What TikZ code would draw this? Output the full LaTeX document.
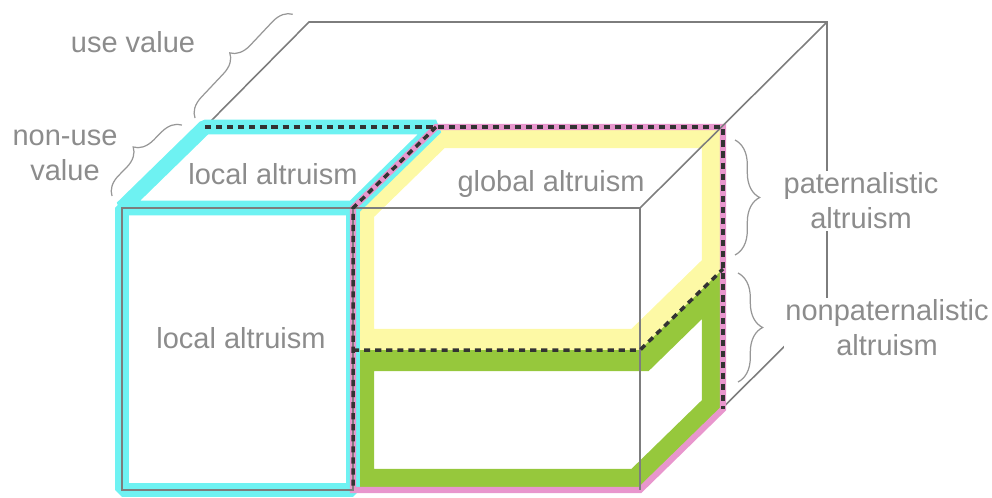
\documentclass[tikz,border=0pt]{standalone}
\usepackage{fontspec}
\setmainfont{Liberation Sans}
\usetikzlibrary{decorations.pathreplacing}

\definecolor{ciano}{RGB}{110,242,242}
\definecolor{rosa}{RGB}{232,150,205}
\definecolor{giallo}{RGB}{253,249,165}
\definecolor{verde}{RGB}{150,200,60}
\definecolor{grigio}{RGB}{125,125,125}
\definecolor{testo}{RGB}{140,140,140}

\begin{document}
\begin{tikzpicture}[
  x=0.2mm, y=-0.2mm,
  font=\fontsize{16.5}{20}\selectfont,
  spigolo/.style={draw=grigio, line width=0.9pt},
  fascia/.style={draw=#1, line width=24pt, line join=miter},
  bordoloc/.style={draw=ciano, line width=8.5pt, line join=bevel},
  bordoglob/.style={draw=rosa, line width=3.5pt, line join=miter},
  tratteggio/.style={draw=black!80, line width=2pt, dash pattern=on 3.5pt off 2.8pt},
  etichetta/.style={text=testo, inner sep=1pt, align=center},
  graffa/.style={draw=grigio!80, line width=0.7pt, decorate,
                 decoration={brace, amplitude=#1}},
  graffa/.default=12pt
]

\useasboundingbox (0,0) rectangle (992,497);

%--------------------------------------------------------------
% Vertici: faccia anteriore, retro della fetta, retro del blocco
%--------------------------------------------------------------
\foreach \n/\px/\py in {A/122/490, B/122/208, C/353/208, D/353/490,
                        E/640/208, F/640/490, M/353/350, N/640/350}
  \coordinate (\n) at (\px,\py);
\foreach \n in {B,C,E,F,N}
  \coordinate (\n1) at ([shift={(83,-81)}]\n);
\foreach \n in {B,E,F}
  \coordinate (\n2) at ([shift={(187,-186)}]\n);

%--------------------------------------------------------------
% Spigoli posteriori del blocco
%--------------------------------------------------------------
\draw[spigolo] (B1) -- (B2) -- (E2) -- (F2) -- (F);

%--------------------------------------------------------------
% Fasce: paternalistico (giallo) e non paternalistico (verde)
%--------------------------------------------------------------
\begin{scope}
  \clip (M) -- (C) -- (C1) -- (E1) -- (N1) -- (N) -- cycle;
  \draw[fascia=giallo] (M) -- (C) -- (C1) -- (E1) -- (N1) -- (N) -- cycle;
\end{scope}
\begin{scope}
  \clip (D) -- (M) -- (N) -- (N1) -- (F1) -- (F) -- cycle;
  \draw[fascia=verde] (D) -- (M) -- (N) -- (N1) -- (F1) -- (F) -- cycle;
\end{scope}

%--------------------------------------------------------------
% Altruismo locale (ciano) e globale (rosa)
%--------------------------------------------------------------
\draw[bordoloc] (A) rectangle (C);
\draw[bordoloc] (B) -- (B1) -- (C1) -- (C) -- cycle;
\draw[bordoglob] (D) -- (C) -- (C1) -- (E1) -- (F1) -- (F) -- cycle;

%--------------------------------------------------------------
% Spigoli anteriori
%--------------------------------------------------------------
\draw[spigolo] (A) rectangle (C);
\draw[spigolo] (C) -- (E) -- (F);
\draw[spigolo] (E) -- (E2);

%--------------------------------------------------------------
% Tratteggi
%--------------------------------------------------------------
\draw[tratteggio] (B1) -- (E1) -- (F1);
\draw[tratteggio] (C1) -- (C) -- (D);
\draw[tratteggio] (M) -- (N) -- (N1);

%--------------------------------------------------------------
% Etichette
%--------------------------------------------------------------
\node[etichetta] (uso) at (133,42) {use value};
\node[etichetta] (nonuso) at (65,155) {non-use\\value};
\node[etichetta] (locsup) at (273,174) {local altruism};
\node[etichetta] (globsup) at (551,184) {global altruism};
\node[etichetta] (locfr) at (241,338) {local altruism};
\node[etichetta, fill=white] (pat) at (861,201) {paternalistic\\altruism};
\node[etichetta, fill=white] (nonpat) at (887,328) {nonpaternalistic\\altruism};

%--------------------------------------------------------------
% Graffe
%--------------------------------------------------------------
\coordinate (g1a) at (195,118);  \coordinate (g1b) at (293,14);
\coordinate (g2a) at (112,196);  \coordinate (g2b) at (182,125);
\coordinate (g3a) at (735,140);  \coordinate (g3b) at (735,255);
\coordinate (g4a) at (738,273);  \coordinate (g4b) at (738,382);
\draw[graffa=11pt] (g1a) -- (g1b);
\draw[graffa=11pt] (g2a) -- (g2b);
\draw[graffa=14pt] (g3a) -- (g3b);
\draw[graffa=14pt] (g4a) -- (g4b);

\end{tikzpicture}
\end{document}
